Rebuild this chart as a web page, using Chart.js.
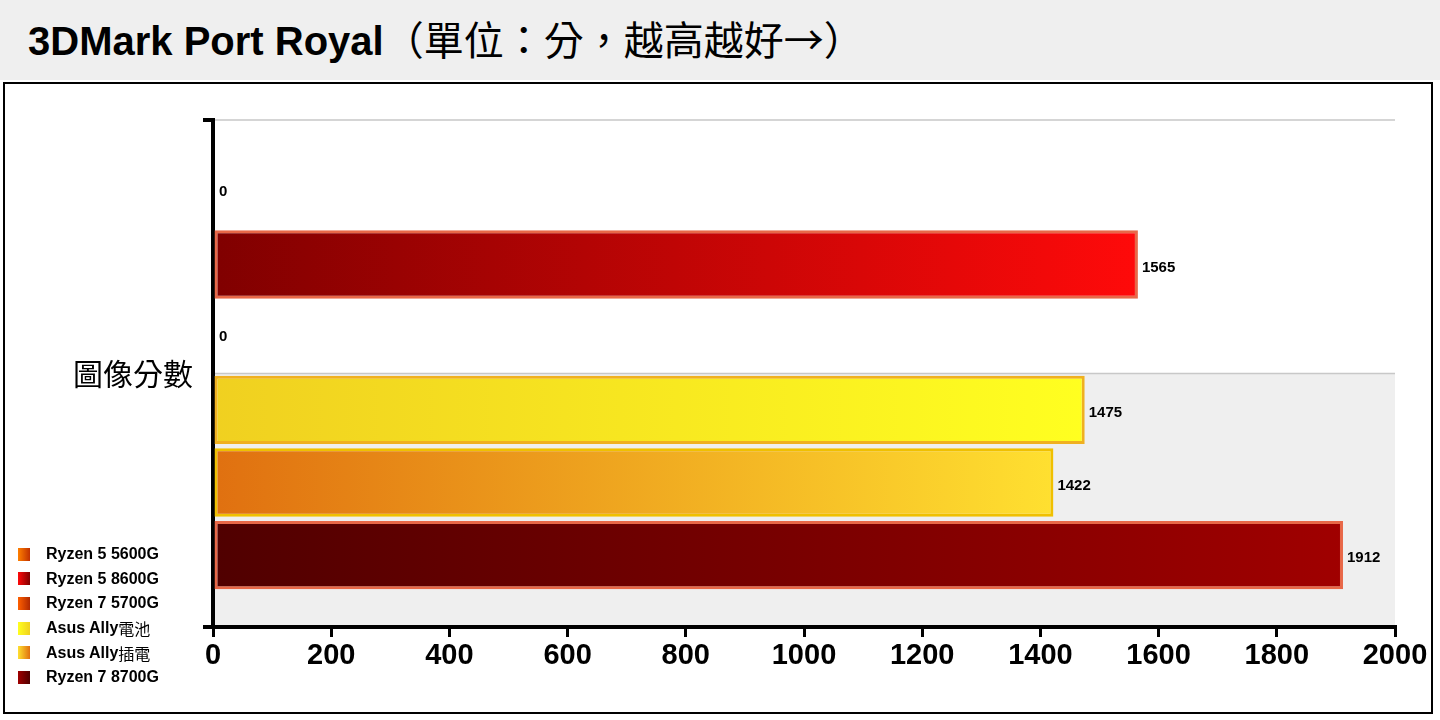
<!DOCTYPE html>
<html><head><meta charset="utf-8">
<script src="https://cdn.jsdelivr.net/npm/chart.js@4"></script>
<style>
body{margin:0;width:1440px;height:720px;background:#fff;font-family:Arial,"Liberation Sans","Noto Sans CJK TC",sans-serif;overflow:hidden}
#title{position:absolute;left:0;top:0;width:1440px;height:80px;background:#efefef;font:bold 40px "Liberation Sans",sans-serif;line-height:82px;padding-left:28px;box-sizing:border-box;color:#000;white-space:nowrap}
#title .cj{font:normal 40px "Noto Sans CJK TC",sans-serif}
#box{position:absolute;left:3px;top:82px;width:1430px;height:632px;border:2px solid #000;box-sizing:border-box}
#c{position:absolute;left:0;top:0}
#legend{position:absolute;left:18px;top:542px;font:bold 16px "Liberation Sans",sans-serif;color:#000}
#legend div{height:24.6px;display:flex;align-items:center}
#legend .cj{font:normal 16px "Noto Sans CJK TC",sans-serif}
#legend span.sw{display:inline-block;width:12px;height:13px;margin-right:16px}
</style></head><body>
<div id="title">3DMark Port Royal<span class="cj">（單位：分，越高越好→）</span></div>
<div id="box"></div>
<canvas id="c" width="1440" height="720"></canvas>
<div id="legend"></div>
<script>
const categories=["圖像分數"];
const seriesNames=["Ryzen 5 5600G","Ryzen 5 8600G","Ryzen 7 5700G","Asus Ally電池","Asus Ally插電","Ryzen 7 8700G"];
const seriesValues=[[0],[1565],[0],[1475],[1422],[1912]];
const xTicks=[0,200,400,600,800,1000,1200,1400,1600,1800,2000];
const gradStart=["#c03000","#800000","#b02800","#f0d020","#e07010","#500000"];
const gradEnd=["#ff8000","#ff0a0a","#ff6000","#ffff20","#ffe030","#a00000"];
const borders=["#f08040","#e86848","#f08040","#f0b020","#f0c000","#e86848"];

const lg=document.getElementById('legend');
seriesNames.forEach((n,i)=>{const d=document.createElement('div');const t=n.replace(/([^\x00-\x7f]+)/g,'<span class="cj">$1</span>');d.innerHTML=`<span class="sw" style="background:linear-gradient(90deg,${gradEnd[i]},${gradStart[i]})"></span>${t}`;lg.appendChild(d);});

const bgPlugin={id:'bg',beforeDraw(ch){const {ctx,chartArea:a}=ch;if(!a)return;const mid=(a.top+a.bottom)/2;ctx.save();ctx.fillStyle='#efefef';ctx.fillRect(a.left,mid,a.right-a.left,a.bottom-mid);ctx.strokeStyle='#c8c8c8';ctx.lineWidth=1.5;ctx.beginPath();ctx.moveTo(a.left,a.top);ctx.lineTo(a.right,a.top);ctx.moveTo(a.left,mid);ctx.lineTo(a.right,mid);ctx.stroke();ctx.restore();}};
const lblPlugin={id:'lbl',afterDatasetsDraw(ch){const ctx=ch.ctx;ctx.save();ctx.font='bold 15px "Liberation Sans",Arial';ctx.fillStyle='#000';ctx.textBaseline='middle';ch.data.datasets.forEach((ds,i)=>{ch.getDatasetMeta(i).data.forEach((b,j)=>{const v=ds.data[j];ctx.fillText(String(v),b.x+(v?4:6),b.y+(v?3:0));});});ctx.restore();}};

new Chart(document.getElementById('c'),{type:'bar',
data:{labels:categories,datasets:seriesNames.map((n,i)=>({label:n,data:seriesValues[i],
backgroundColor:(c)=>{const ch=c.chart;if(!ch.chartArea)return gradStart[i];const x0=ch.scales.x.getPixelForValue(0);const x1=ch.scales.x.getPixelForValue(seriesValues[i][0]||1);const g=ch.ctx.createLinearGradient(x0,0,x1,0);g.addColorStop(0,gradStart[i]);g.addColorStop(1,gradEnd[i]);return g;},
borderColor:borders[i],borderWidth:3,borderSkipped:false}))},
options:{indexAxis:'y',responsive:false,animation:false,
layout:{padding:{left:0,right:45,top:120,bottom:33}},
categoryPercentage:0.86,barPercentage:0.94,
plugins:{legend:{display:false},tooltip:{enabled:false}},
scales:{
x:{min:0,max:2000,afterBuildTicks:s=>{s.ticks=xTicks.map(v=>({value:v}));},afterFit:s=>{s.height=60;},
border:{color:'#000',width:4},grid:{drawOnChartArea:false,drawTicks:true,tickLength:10,color:'#000',lineWidth:3},
ticks:{color:'#000',font:{size:29,weight:'bold',family:'"Liberation Sans",Arial'},padding:2,callback:v=>String(v)}},
y:{afterFit:s=>{s.width=213;},border:{color:'#000',width:4},grid:{drawOnChartArea:false,drawTicks:true,tickLength:10,color:'#000',lineWidth:4},
ticks:{color:'#000',font:{size:30,family:'"Noto Sans CJK TC",sans-serif'},padding:10}}}},
plugins:[bgPlugin,lblPlugin]});
</script></body></html>
